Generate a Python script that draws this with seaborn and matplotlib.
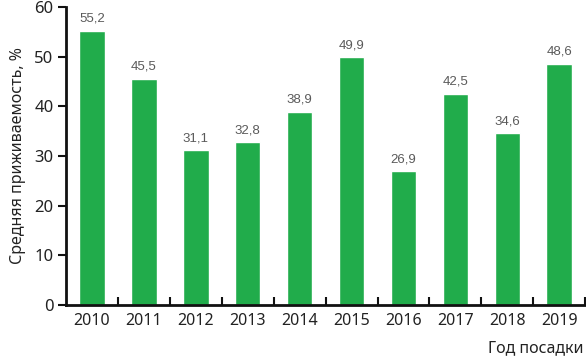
import matplotlib
matplotlib.use("Agg")
import matplotlib.pyplot as plt
import matplotlib.transforms as mtransforms
import seaborn as sns
import pandas as pd
import numpy as np

years = ["2010", "2011", "2012", "2013", "2014", "2015", "2016", "2017", "2018", "2019"]
values = [55.2, 45.5, 31.1, 32.8, 38.9, 49.9, 26.9, 42.5, 34.6, 48.6]
value_labels = ["55,2", "45,5", "31,1", "32,8", "38,9", "49,9", "26,9", "42,5", "34,6", "48,6"]
y_ticks = [0, 10, 20, 30, 40, 50, 60]

sns.set_theme(style="ticks")
plt.rcParams['font.family'] = ['Noto Sans', 'DejaVu Sans']

df = pd.DataFrame({"year": years, "value": values})

fig = plt.figure(figsize=(5.86, 3.63), dpi=100)
ax = fig.add_axes([0.1126, 0.160, 0.886, 0.821])

sns.barplot(data=df, x="year", y="value", color="#21AC4B", saturation=1,
            width=0.49, ax=ax)

for i, (v, lab) in enumerate(zip(values, value_labels)):
    ax.text(i, v + 1.2, lab, ha="center", va="bottom", fontsize=9.5,
            color="#5a5a5a", family=['Liberation Sans Narrow', 'Liberation Sans', 'DejaVu Sans'])

ax.set_ylim(0, 60)
ax.set_xlim(-0.5, 9.5)
ax.set_yticks(y_ticks)
ax.set_yticklabels([str(t) for t in y_ticks], fontsize=12, color="#222222")

ax.set_xticks(np.arange(len(years)))
ax.set_xticklabels(years, fontsize=11.5, color="#222222")
ax.tick_params(axis="x", which="major", length=0, pad=6)
ax.tick_params(axis="y", direction="out", length=6, width=1.5, color="#111111", left=True, pad=3)

# category boundary ticks pointing up from the x axis
trans = mtransforms.blended_transform_factory(ax.transData, ax.transAxes)
ax.vlines(np.arange(len(years)) + 0.5, 0, 0.028, transform=trans,
          colors="#111111", linewidth=1.5, clip_on=False, zorder=5)

for s in ["top", "right"]:
    ax.spines[s].set_visible(False)
for s in ["left", "bottom"]:
    ax.spines[s].set_color("#111111")
    ax.spines[s].set_linewidth(2)

ax.set_xlabel("")
ax.set_ylabel("Средняя приживаемость, %", fontsize=11.5, color="#222222", labelpad=6)
fig.text(0.995, 0.02, "Год посадки", ha="right", va="bottom", fontsize=11.5, color="#222222")

fig.savefig("out.png", dpi=100)
